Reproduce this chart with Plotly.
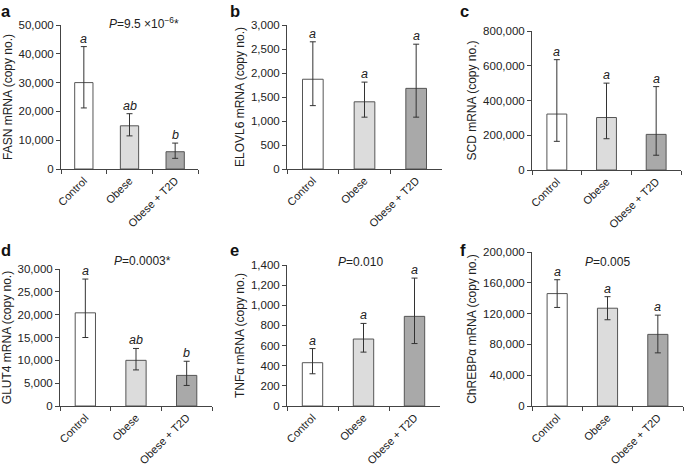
import plotly.graph_objects as go

W, H = 685, 466

categories = ["Control", "Obese", "Obese + T2D"]
bar_colors = ["#ffffff", "#dcdcdc", "#a9a9a9"]

# panel a: FASN
fasn_mean = [30000, 15000, 6000]
fasn_upper = [42500, 19200, 9000]
fasn_lower = [21200, 11500, 3700]
fasn_letters = ["a", "ab", "b"]
# panel b: ELOVL6
elovl6_mean = [1870, 1400, 1680]
elovl6_upper = [2650, 1810, 2600]
elovl6_lower = [1320, 1080, 1080]
elovl6_letters = ["a", "a", "a"]
# panel c: SCD
scd_mean = [322000, 302000, 205000]
scd_upper = [635000, 500000, 480000]
scd_lower = [165000, 180000, 85000]
scd_letters = ["a", "a", "a"]
# panel d: GLUT4
glut4_mean = [20400, 10000, 6700]
glut4_upper = [27800, 12600, 9800]
glut4_lower = [15000, 7900, 4500]
glut4_letters = ["a", "ab", "b"]
# panel e: TNFalpha
tnfa_mean = [430, 665, 890]
tnfa_upper = [570, 820, 1270]
tnfa_lower = [320, 535, 620]
tnfa_letters = ["a", "a", "a"]
# panel f: ChREBPalpha
chrebp_mean = [146000, 127000, 93000]
chrebp_upper = [164000, 142000, 118000]
chrebp_lower = [128000, 112000, 69000]
chrebp_letters = ["a", "a", "a"]

panels = [
    dict(tag="a", mean=fasn_mean, up=fasn_upper, lo=fasn_lower, let=fasn_letters,
         title="FASN mRNA (copy no.)", ymax=50000, dtick=10000,
         px=(61, 198), py=(25, 169), p="<i>P</i>=9.5 ×10<sup>−6</sup>*", pxy=(144, 23)),
    dict(tag="b", mean=elovl6_mean, up=elovl6_upper, lo=elovl6_lower, let=elovl6_letters,
         title="ELOVL6 mRNA (copy no.)", ymax=3000, dtick=500,
         px=(287, 442), py=(25, 169), p=None),
    dict(tag="c", mean=scd_mean, up=scd_upper, lo=scd_lower, let=scd_letters,
         title="SCD mRNA (copy no.)", ymax=800000, dtick=200000,
         px=(532, 681), py=(31, 170), p=None),
    dict(tag="d", mean=glut4_mean, up=glut4_upper, lo=glut4_lower, let=glut4_letters,
         title="GLUT4 mRNA (copy no.)", ymax=30000, dtick=5000,
         px=(60, 212), py=(269, 406), p="<i>P</i>=0.0003*", pxy=(142, 261)),
    dict(tag="e", mean=tnfa_mean, up=tnfa_upper, lo=tnfa_lower, let=tnfa_letters,
         title="TNFα mRNA (copy no.)", ymax=1400, dtick=200,
         px=(287, 440), py=(265, 406), p="<i>P</i>=0.010", pxy=(360, 262)),
    dict(tag="f", mean=chrebp_mean, up=chrebp_upper, lo=chrebp_lower, let=chrebp_letters,
         title="ChREBPα mRNA (copy no.)", ymax=200000, dtick=40000,
         px=(532, 683), py=(252, 406), p="<i>P</i>=0.005", pxy=(607, 262)),
]

FONT = "Liberation Sans, Arial, sans-serif"
AX = "#444444"
TXT = "#222222"
fig = go.Figure()
annotations = []

for i, pn in enumerate(panels):
    n = i + 1
    xa = "x" if n == 1 else f"x{n}"
    ya = "y" if n == 1 else f"y{n}"
    plus = [u - m for u, m in zip(pn["up"], pn["mean"])]
    minus = [m - l for m, l in zip(pn["mean"], pn["lo"])]
    fig.add_trace(go.Bar(
        x=categories, y=pn["mean"], xaxis=xa, yaxis=ya, width=0.4,
        marker=dict(color=bar_colors, line=dict(color="#555555", width=1)),
        error_y=dict(type="data", symmetric=False, array=plus, arrayminus=minus,
                     color="#333333", thickness=1, width=3),
        showlegend=False, hoverinfo="skip"))
    fig.layout[f"xaxis{'' if n == 1 else n}"] = dict(
        domain=[pn["px"][0] / W, pn["px"][1] / W], anchor=ya, automargin=False,
        showline=True, linecolor=AX, linewidth=1, ticks="outside", ticklen=4,
        tickcolor=AX, tickson="boundaries", tickangle=-45, showgrid=False,
        tickfont=dict(family=FONT, size=11, color=TXT), fixedrange=True)
    fig.layout[f"yaxis{'' if n == 1 else n}"] = dict(
        domain=[1 - pn["py"][1] / H, 1 - pn["py"][0] / H], anchor=xa, automargin=False,
        range=[0, pn["ymax"]], dtick=pn["dtick"], tickformat=",",
        showline=True, linecolor=AX, linewidth=1, ticks="outside", ticklen=4,
        tickcolor=AX, showgrid=False, zeroline=False,
        tickfont=dict(family=FONT, size=11.5, color=TXT),
        title=dict(text=pn["title"], font=dict(family=FONT, size=12, color=TXT),
                   standoff=3), fixedrange=True)
    for c, u, t in zip(categories, pn["up"], pn["let"]):
        annotations.append(dict(x=c, y=u, xref=xa, yref=ya, text=f"<i>{t}</i>",
                                showarrow=False, yanchor="bottom", yshift=-1,
                                font=dict(family=FONT, size=12.5, color=TXT)))
    lx = {0: 0, 1: 229, 2: 459}[i % 3]
    ly = 21 if i < 3 else 260
    annotations.append(dict(x=lx / W, y=1 - ly / H, xref="paper", yref="paper",
                            text=f"<b>{pn['tag']}</b>", showarrow=False,
                            xanchor="left", yanchor="bottom", borderpad=0,
                            font=dict(family=FONT, size=16.5, color="#111111")))
    if pn["p"]:
        annotations.append(dict(x=pn["pxy"][0] / W, y=1 - pn["pxy"][1] / H,
                                xref="paper", yref="paper", text=pn["p"],
                                showarrow=False, xanchor="center", yanchor="middle",
                                font=dict(family=FONT, size=12, color=TXT)))

fig.update_layout(width=W, height=H, margin=dict(l=0, r=0, t=0, b=0),
                  paper_bgcolor="white", plot_bgcolor="white",
                  annotations=annotations)
fig.write_html("out.html", config={"displayModeBar": False},
               post_script="document.body.style.margin='0';document.body.style.overflow='hidden';")
